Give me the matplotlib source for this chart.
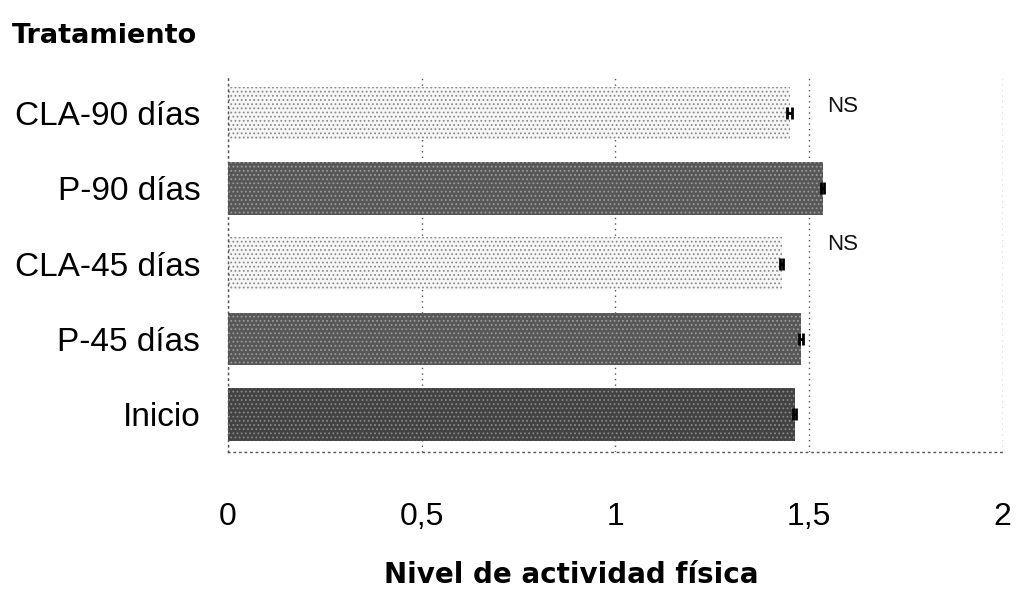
import matplotlib
matplotlib.use("Agg")
import matplotlib.pyplot as plt

categories = ["Inicio", "P-45 días", "CLA-45 días", "P-90 días", "CLA-90 días"]
values = [1.463, 1.479, 1.43, 1.535, 1.45]
errors = [0.004, 0.005, 0.004, 0.004, 0.006]
sig_labels = ["", "", "NS", "", "NS"]
xticks = [0, 0.5, 1, 1.5, 2]
xtick_labels = ["0", "0,5", "1", "1,5", "2"]

face = ["#424242", "#575757", "#f6f6f6", "#575757", "#f6f6f6"]
hatch_col = ["#888888", "#9a9a9a", "#8c8c8c", "#9a9a9a", "#8c8c8c"]
ns_offset = [0, 0, 0.26, 0, 0.08]

plt.rcParams['font.family'] = ['Liberation Sans', 'DejaVu Sans']
plt.rcParams['hatch.linewidth'] = 0.8

fig = plt.figure(figsize=(10.18, 5.93), dpi=100)
ax = fig.add_axes([0.224, 0.238, 0.761, 0.635])

ypos = list(range(len(categories)))
for i, (v, e) in enumerate(zip(values, errors)):
    ax.barh(ypos[i], v, height=0.70, color=face[i], edgecolor=hatch_col[i],
            hatch='....', linewidth=0, zorder=2)
    ax.errorbar(v, ypos[i], xerr=e, fmt='none', ecolor='black',
                elinewidth=2, capsize=4, capthick=2, zorder=3)
    if sig_labels[i]:
        ax.text(1.546, ypos[i] + ns_offset[i], sig_labels[i], fontsize=16,
                va='center', ha='left', color='#111111')

ax.set_xlim(0, 2)
ax.set_ylim(-0.5, 4.5)
ax.set_xticks(xticks)
ax.set_xticklabels(xtick_labels, fontsize=23)
ax.set_yticks(ypos)
ax.set_yticklabels(categories, fontsize=24)
ax.tick_params(axis='x', length=0, pad=36)
ax.tick_params(axis='y', length=0, pad=20)

ax.grid(axis='x', linestyle=(0, (1, 3)), color='#555555', linewidth=1, zorder=0)
for s in ['top', 'right']:
    ax.spines[s].set_visible(False)
for s in ['left', 'bottom']:
    ax.spines[s].set_linestyle((0, (1, 3)))
    ax.spines[s].set_color('#555555')
    ax.spines[s].set_linewidth(1)

ax.set_xlabel("Nivel de actividad física", fontsize=20, fontweight='bold',
              family='DejaVu Sans', labelpad=20)
ax.xaxis.set_label_coords(0.443, -0.29)
fig.text(0.012, 0.94, "Tratamiento", fontsize=19.5, fontweight='bold',
         family='DejaVu Sans', ha='left', va='center')

fig.savefig("out.png", dpi=100)
